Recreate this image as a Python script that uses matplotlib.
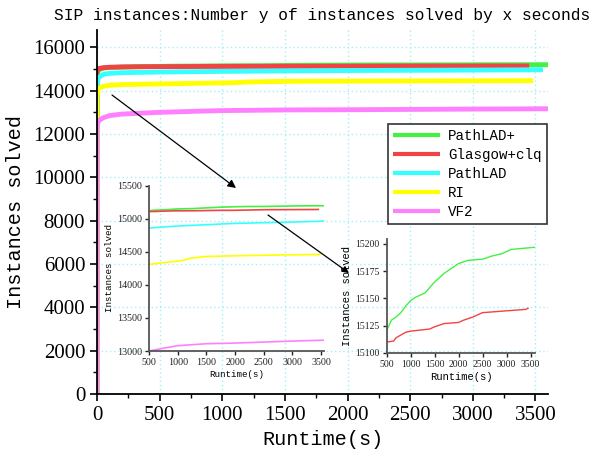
import matplotlib
matplotlib.use("Agg")
import matplotlib.pyplot as plt
from matplotlib.ticker import MultipleLocator

# data
solvers = ["PathLAD+", "Glasgow+clq", "PathLAD", "RI", "VF2"]
colors = ["#44f044", "#f04444", "#38ffff", "#ffff00", "#ff80ff"]

t_pathladp = [0, 0.5, 10, 50, 100, 200, 300, 400, 500, 600, 700, 800, 900, 1000, 1100, 1200,
              1300, 1400, 1500, 1600, 1700, 1800, 1900, 2000, 2200, 2500, 2700, 2900, 3100, 3600]
v_pathladp = [0, 14700, 14950, 15040, 15070, 15090, 15105, 15113, 15120, 15130, 15133, 15137,
              15143, 15148, 15151, 15153, 15155, 15160, 15165, 15169, 15173, 15176, 15179,
              15182, 15185, 15186, 15189, 15191, 15195, 15197]

t_glasgow = [0, 0.5, 10, 50, 100, 200, 350, 500, 650, 700, 900, 1000, 1400, 1500, 1700, 2000,
             2100, 2300, 2500, 3400, 3450]
v_glasgow = [0, 14850, 15020, 15060, 15080, 15095, 15105, 15110, 15111, 15114, 15119, 15120,
             15122, 15124, 15127, 15128, 15130, 15133, 15137, 15140, 15141]

t_pathlad = [0, 0.5, 10, 50, 100, 200, 500, 1000, 1500, 2000, 3000, 3560]
v_pathlad = [0, 14200, 14600, 14750, 14800, 14830, 14860, 14890, 14910, 14930, 14950, 14965]

t_ri = [0, 0.5, 10, 50, 100, 200, 500, 900, 1100, 1200, 1500, 2000, 3000, 3480]
v_ri = [0, 13700, 14100, 14200, 14250, 14280, 14310, 14350, 14370, 14400, 14430, 14440, 14455, 14460]

t_vf2 = [0, 0.5, 10, 50, 100, 200, 500, 800, 1000, 1500, 2000, 3000, 3600]
v_vf2 = [0, 12300, 12600, 12750, 12850, 12920, 13000, 13050, 13080, 13110, 13120, 13150, 13165]

times = [t_pathladp, t_glasgow, t_pathlad, t_ri, t_vf2]
values = [v_pathladp, v_glasgow, v_pathlad, v_ri, v_vf2]

mono = "Liberation Mono"
serif = "Liberation Serif"
gridcol = "#9ff0f8"

fig = plt.figure(figsize=(5.92, 4.62), dpi=100)
W, H = 592.0, 462.0

ax = fig.add_axes([97 / W, 1 - 394 / H, 451 / W, 364 / H])
for i in range(len(solvers)):
    ax.plot(times[i], values[i], color=colors[i], lw=3.5, label=solvers[i], solid_capstyle="butt")
ax.set_xlim(0, 3600)
ax.set_ylim(0, 16800)
ax.xaxis.set_major_locator(MultipleLocator(500))
ax.xaxis.set_minor_locator(MultipleLocator(250))
ax.yaxis.set_major_locator(MultipleLocator(2000))
ax.yaxis.set_minor_locator(MultipleLocator(1000))
ax.grid(True, which="major", color=gridcol, ls=(0, (1, 2)), lw=1)
ax.set_axisbelow(True)
for s in ["top", "right"]:
    ax.spines[s].set_visible(False)
for s in ["left", "bottom"]:
    ax.spines[s].set_linewidth(1.3)
ax.tick_params(which="major", length=5, width=1.2, labelsize=15)
ax.tick_params(which="minor", length=3, width=1.0)
for lab in ax.get_xticklabels() + ax.get_yticklabels():
    lab.set_fontfamily(serif)
ax.set_title("SIP instances:Number y of instances solved by x seconds",
             family=mono, fontsize=11.7, pad=7)
ax.set_xlabel("Runtime(s)", family=mono, fontsize=14.5, labelpad=4)
ax.set_ylabel("Instances solved", family=mono, fontsize=14.5, labelpad=6)

leg = ax.legend(loc="upper left", bbox_to_anchor=((388 - 97) / 451, (394 - 124) / 364),
                borderaxespad=0, prop={"family": mono, "size": 10.2},
                handlelength=3.3, handletextpad=0.6, labelspacing=0.35,
                fancybox=False, framealpha=1, edgecolor="#333333", borderpad=0.35)
leg.get_frame().set_linewidth(1.2)
for h in leg.get_lines():
    h.set_linewidth(3)

# inset 1
ax1 = fig.add_axes([149 / W, 1 - 351 / H, 175 / W, 165.3 / H])
ax1.patch.set_alpha(0)
for i in range(len(solvers)):
    ax1.plot(times[i], values[i], color=colors[i], lw=1.2)
ax1.set_xlim(500, 3550)
ax1.set_ylim(13000, 15500)
ax1.xaxis.set_major_locator(MultipleLocator(500))
ax1.yaxis.set_major_locator(MultipleLocator(500))
for s in ["top", "right"]:
    ax1.spines[s].set_visible(False)
for s in ["left", "bottom"]:
    ax1.spines[s].set_color("#555555")
    ax1.spines[s].set_linewidth(1.3)
ax1.tick_params(length=3, width=1, labelsize=7.2, colors="#222222", pad=2)
for lab in ax1.get_xticklabels() + ax1.get_yticklabels():
    lab.set_fontfamily(serif)
ax1.set_xlabel("Runtime(s)", family=mono, fontsize=6.6, labelpad=2)
ax1.set_ylabel("Instances solved", family=mono, fontsize=6.6, labelpad=2)

# inset 2
ax2 = fig.add_axes([386.5 / W, 1 - 353 / H, 148.8 / W, 114.5 / H])
ax2.patch.set_alpha(0)
for i in range(2):
    ax2.plot(times[i], values[i], color=colors[i], lw=1.0)
ax2.set_xlim(500, 3600)
ax2.set_ylim(15100, 15205)
ax2.xaxis.set_major_locator(MultipleLocator(500))
ax2.yaxis.set_major_locator(MultipleLocator(25))
for s in ["top", "right"]:
    ax2.spines[s].set_visible(False)
for s in ["left", "bottom"]:
    ax2.spines[s].set_color("#555555")
    ax2.spines[s].set_linewidth(1.3)
ax2.tick_params(length=3, width=1, labelsize=7.0, colors="#222222", pad=2)
for lab in ax2.get_xticklabels() + ax2.get_yticklabels():
    lab.set_fontfamily(serif)
ax2.set_xlabel("Runtime(s)", family=mono, fontsize=7.6, labelpad=2)
ax2.set_ylabel("Instances solved", family=mono, fontsize=7.6, labelpad=2)

# arrows
def fp(x, y):
    return (x / W, 1 - y / H)

fig.add_artist(plt.Annotation("", xy=fp(236, 188), xytext=fp(112, 95),
                              xycoords="figure fraction", textcoords="figure fraction",
                              arrowprops=dict(arrowstyle="-|>", color="black", lw=0.9,
                                              mutation_scale=12, shrinkA=0, shrinkB=0)))
fig.add_artist(plt.Annotation("", xy=fp(349, 273), xytext=fp(268, 215),
                              xycoords="figure fraction", textcoords="figure fraction",
                              arrowprops=dict(arrowstyle="-|>", color="black", lw=0.9,
                                              mutation_scale=10, shrinkA=0, shrinkB=0)))

fig.savefig("out.png", dpi=100)
